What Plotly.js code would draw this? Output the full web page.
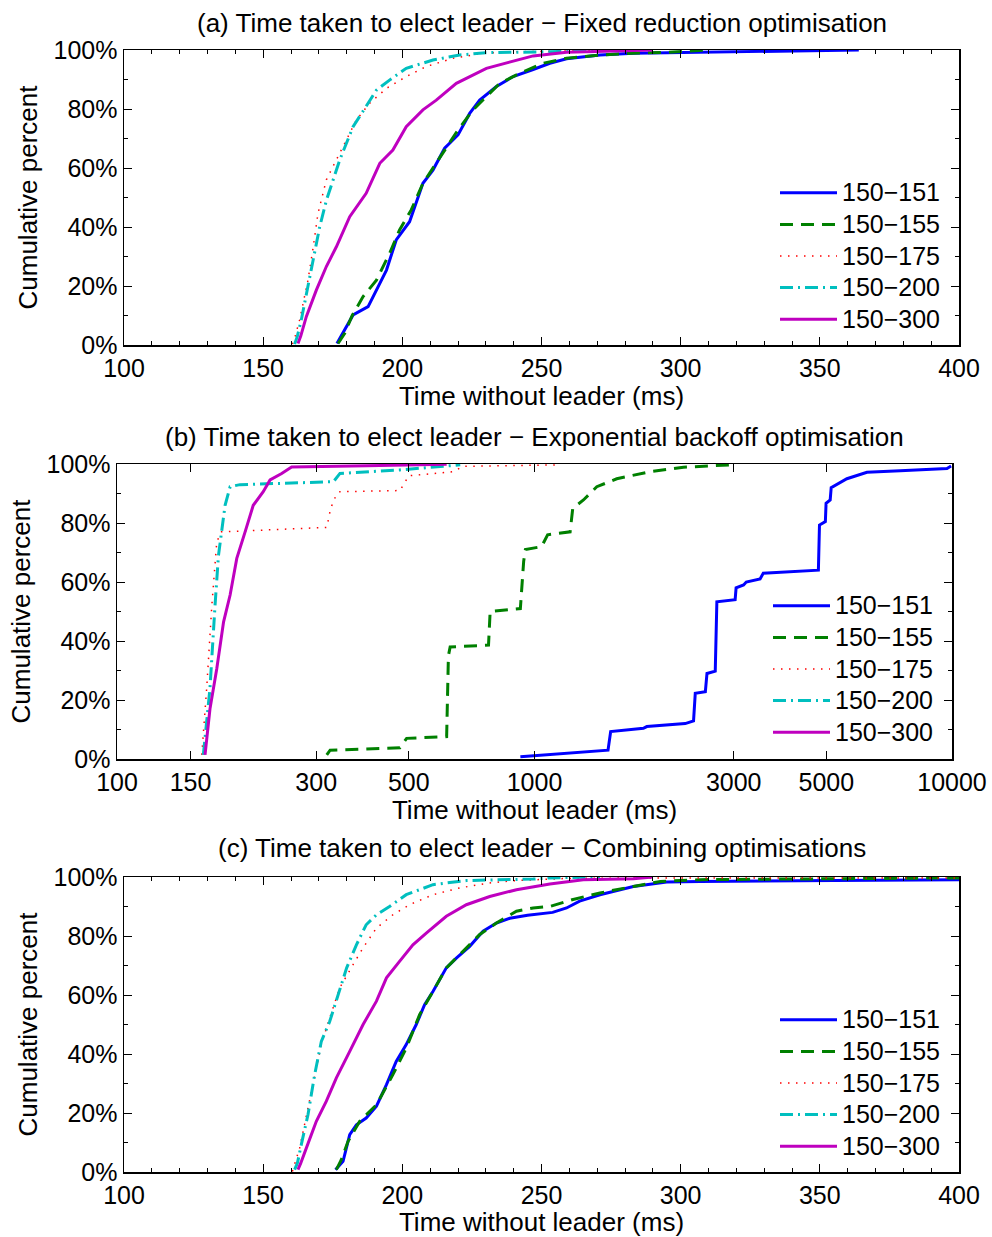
<!DOCTYPE html>
<html>
<head>
<meta charset="utf-8">
<script src="https://cdn.plot.ly/plotly-3.0.1.min.js"></script>
<style>html,body{margin:0;padding:0;background:#fff;}#plot{width:992px;height:1237px;}</style>
</head>
<body>
<div id="plot"></div>
<script>
// ---------- data ----------
const seriesNames = ['150\u2212151', '150\u2212155', '150\u2212175', '150\u2212200', '150\u2212300'];
const panelTitles = [
  '(a) Time taken to elect leader \u2212 Fixed reduction optimisation',
  '(b) Time taken to elect leader \u2212 Exponential backoff optimisation',
  '(c) Time taken to elect leader \u2212 Combining optimisations'
];
const xTitle = 'Time without leader (ms)';
const yTitle = 'Cumulative percent';
const logTickVals = [100, 150, 300, 500, 1000, 3000, 5000, 10000];
const logTickText = ['100', '150', '300', '500', '1000', '3000', '5000', '10000'];

// (a) Fixed reduction
const a151x = [176.5,178,182.3,187.7,191,194.3,197.8,202.6,207.4,211,215.2,220,224.2,227.8,233.8,239.8,247,253,259,271,283,301,331,364];
const a151y = [0.5,3,10.2,13,19,25.4,35.6,41.8,54.8,59.3,66.7,71.2,78.5,83,87.6,91,93.4,95.5,97,98.3,98.9,99.2,99.5,100];
const a155x = [176.9,179.3,182,185.9,190.7,195.4,199,203.2,207.4,211,215.8,220,225.4,230.2,235,242,250.5,259,271,283,295,310];
const a155y = [0.5,4,10,16.4,22,31,39,45.8,54.8,60,67.2,72.9,79.7,84.2,88.7,92,95.5,97.2,98.3,98.9,99.2,100];
const a175x = [160.5,161.5,163.1,166.1,168,169.7,172.7,176.3,180,183.5,188.3,194.3,201.4,208.6,218.2,229,241,260,280];
const a175y = [0.3,3,8.5,22,33.3,44.6,56,62.7,69.5,76.3,82,87,91,94.4,97.2,98.9,99.4,99.8,100];
const a200x = [161.3,162.3,163.7,166.1,168.5,170.3,172.7,175.1,177.5,182.3,187,190.7,195.4,201.4,211,220.6,230,253,275];
const a200y = [0.3,3,8.5,19.8,31,40,49,56,62.7,74,80.8,86.4,89.8,93.8,96.6,98.3,99.1,99.4,100];
const a300x = [162.5,163.5,165.5,169.1,172.7,176.3,181.1,187,191.9,196.6,201.4,207.4,212.2,219.4,230.2,241,247,259,277,290];
const a300y = [0.5,3,9.6,18.6,26.6,33.3,43.5,51.4,61.6,66.1,74,79.7,83,88.7,93.8,96.6,98,99.2,99.6,100];

// (b) Exponential backoff (log x)
const b151x = [925,1500,1522,1823,1858,2296,2404,2427,2566,2589,2710,2734,3024,3040,3168,3215,3470,3532,4786,4815,4974,4993,5108,5136,5601,6256,7516,9727,9950];
const b151y = [0.8,3,9.3,10.4,11,12,12.9,22.3,22.8,29,29.8,53.3,54,58,59,60,61,63,64,79.3,80.5,86.7,87.8,92,95,97.2,97.7,98.5,99.3];
const b155x = [318,324,476,494,616,622,628,776,783,925,942,951,1040,1075,1217,1235,1310,1410,1574,1892,2274,2944];
const b155y = [1.4,3,3.8,7,7.6,35,38,38.6,50,51,67,71,72,76,77,85,87.8,92.3,95,97.4,98.9,99.7];
const b175x = [159.6,164,168.7,173.4,178,318,325,335,342,476,500,638,675,1140];
const b175y = [1.4,24,52,73.7,77,78.5,85,89.5,90.6,91,96,97.4,99.2,99.7];
const b200x = [161,167,171.7,175,181.5,186.6,197,330,342,476,664];
const b200y = [1.4,24,52,69,86,92.3,93,94,96.8,98,99.7];
const b300x = [162.5,167,173.4,180,186.6,193.6,202.7,212,224,232.6,248,262,396,616];
const b300y = [1.4,17,30.7,46.5,55.6,68,77,86,90.6,94.6,96.8,99,99.4,99.9];

// (c) Combining optimisations
const c151x = [176,178.7,181.1,183.5,187,190.7,194.3,197.8,201.4,205,208,211,215.8,219.4,224.2,229,233.8,238.6,245,254,259,263.7,271,283,295,307,355,400];
const c151y = [0.8,3.6,12.7,16,18.3,22.3,29.6,37.5,43.2,50,56.7,61.2,69.2,72.5,76.5,81.6,84.4,86,87,88,89.5,91.8,94,96.8,98.3,98.5,98.8,99.1];
const c155x = [176.3,178,180.5,184.7,190.7,196.6,201.4,206.2,211,215.8,221.8,227.8,233.8,241,247,253,261,271,283,292.7,307,400];
const c155y = [0.8,4,10.4,17.2,22.8,33,42,53.3,61.2,69.2,74.8,80.5,84.4,88.4,89.5,90,92.3,94.6,96.8,98.5,99.1,99.7];
const c175x = [160.5,161.5,163.1,166.1,168.5,170.9,173.9,177.5,182.3,185.9,190.7,196.6,202.6,211,220.6,231.4,241,259,290,400];
const c175y = [0.2,3,8.1,21.7,33,43.2,52.2,62.4,70.3,76,82.7,87.2,90.6,94,96.3,98,98.8,99.5,99.7,99.7];
const c200x = [161.3,162.3,163.7,166.1,168.5,170.9,173.9,176.3,180,183.5,187,190.7,195.4,201.4,211,223,247,253,271];
const c200y = [0.8,3,9.3,19.4,33,44.3,51,57.9,69.2,77,83.8,87.2,90,94,97.4,98.8,99.3,99.7,100];
const c300x = [162.5,163.5,165.5,169.1,172.7,176.3,181.1,185.9,190.7,194.3,199,203.8,208.6,215.8,223,231.4,241,253,265,283,290];
const c300y = [0.8,3,8.1,17.2,24,31.9,40.9,50,57.9,65.8,71.4,77,81,86.7,90.6,93.4,95.7,97.6,99.1,99.4,100];

// ---------- styles ----------
const lineStyles = [
  {color: '#0000ff', width: 3, dash: 'solid'},
  {color: '#008000', width: 3, dash: '13px,8px'},
  {color: '#ff0000', width: 1.5, dash: '1.5px,6.5px'},
  {color: '#00bfbf', width: 3, dash: '13px,5px,2px,5px'},
  {color: '#bf00bf', width: 3, dash: 'solid'}
];

const panels = [
  {xs: [a151x,a155x,a175x,a200x,a300x], ys: [a151y,a155y,a175y,a200y,a300y], xa: 'x', ya: 'y', lg: 'legend'},
  {xs: [b151x,b155x,b175x,b200x,b300x], ys: [b151y,b155y,b175y,b200y,b300y], xa: 'x2', ya: 'y2', lg: 'legend2'},
  {xs: [c151x,c155x,c175x,c200x,c300x], ys: [c151y,c155y,c175y,c200y,c300y], xa: 'x3', ya: 'y3', lg: 'legend3'}
];

const traces = [];
panels.forEach(p => {
  for (let i = 0; i < 5; i++) {
    traces.push({
      type: 'scatter', mode: 'lines',
      x: p.xs[i], y: p.ys[i],
      name: '<span style="font-size:25px">' + seriesNames[i] + '</span>',
      xaxis: p.xa, yaxis: p.ya, legend: p.lg,
      line: Object.assign({shape: 'linear'}, lineStyles[i]),
      hoverinfo: 'skip'
    });
  }
});

// ---------- layout ----------
const W = 992, H = 1237;
const px = v => v / W;
const py = v => 1 - v / H;
const FONT = 'Liberation Sans, Arial, Helvetica, sans-serif';
const TICKFONT = {size: 25, color: '#000', family: FONT};
const TITLEFONT = {size: 26, color: '#000', family: FONT};

function xAxisLin(domain) {
  return {
    domain: domain, range: [100, 400], dtick: 50, tick0: 100,
    showgrid: false, zeroline: false, showline: true, linecolor: '#000', linewidth: 1.5,
    mirror: 'ticks', ticks: 'inside', ticklen: 8, tickwidth: 1, tickcolor: '#000',
    minor: {ticks: 'inside', ticklen: 4, dtick: 10, tickwidth: 1, tickcolor: '#000', showgrid: false},
    tickfont: TICKFONT,
    title: {text: xTitle, font: TITLEFONT, standoff: 4},
    fixedrange: true
  };
}
function yAxis(domain, anchor) {
  return {
    domain: domain, range: [0, 100], dtick: 20, tick0: 0, ticksuffix: '%', anchor: anchor,
    showgrid: false, zeroline: false, showline: true, linecolor: '#000', linewidth: 1.5,
    mirror: 'ticks', ticks: 'inside', ticklen: 8, tickwidth: 1, tickcolor: '#000',
    minor: {ticks: 'inside', ticklen: 4, dtick: 10, tickwidth: 1, tickcolor: '#000', showgrid: false},
    tickfont: TICKFONT,
    title: {text: yTitle, font: TITLEFONT, standoff: 8},
    fixedrange: true
  };
}

const xDomA = [px(124), px(959)];
const xDomB = [px(117), px(952)];
const yDomA = [py(345), py(50)];
const yDomB = [py(759), py(464)];
const yDomC = [py(1172), py(877)];

const xa2 = {
  domain: xDomB, type: 'log', range: [2, 4], anchor: 'y2',
  tickmode: 'array', tickvals: logTickVals, ticktext: logTickText,
  showgrid: false, zeroline: false, showline: true, linecolor: '#000', linewidth: 1.5,
  mirror: 'ticks', ticks: 'inside', ticklen: 8, tickwidth: 1, tickcolor: '#000',
  tickfont: TICKFONT,
  title: {text: xTitle, font: TITLEFONT, standoff: 4},
  fixedrange: true
};

function legendAt(xLeft, yTop) {
  return {
    x: px(xLeft), xanchor: 'left', y: py(yTop), yanchor: 'top',
    bgcolor: 'rgba(0,0,0,0)', borderwidth: 0,
    font: {size: 22, color: '#000', family: FONT},
    itemwidth: 57, tracegroupgap: 0, itemclick: false, itemdoubleclick: false
  };
}

const annos = [
  {text: panelTitles[0], x: (xDomA[0]+xDomA[1])/2, y: py(23)},
  {text: panelTitles[1], x: (xDomB[0]+xDomB[1])/2, y: py(437)},
  {text: panelTitles[2], x: (xDomA[0]+xDomA[1])/2, y: py(848)}
].map(a => Object.assign(a, {
  xref: 'paper', yref: 'paper', xanchor: 'center', yanchor: 'middle', showarrow: false,
  font: TITLEFONT
}));

const layout = {
  width: W, height: H,
  margin: {l: 0, r: 0, t: 0, b: 0},
  paper_bgcolor: '#fff', plot_bgcolor: '#fff',
  font: {family: FONT, color: '#000'},
  showlegend: true,
  xaxis: Object.assign(xAxisLin(xDomA), {anchor: 'y'}),
  yaxis: yAxis(yDomA, 'x'),
  xaxis2: xa2,
  yaxis2: yAxis(yDomB, 'x2'),
  xaxis3: Object.assign(xAxisLin(xDomA), {anchor: 'y3'}),
  yaxis3: yAxis(yDomC, 'x3'),
  legend: legendAt(775, 172),
  legend2: legendAt(768, 585),
  legend3: legendAt(775, 999),
  annotations: annos
};

Plotly.newPlot('plot', traces, layout, {staticPlot: true, displayModeBar: false});
</script>
</body>
</html>
